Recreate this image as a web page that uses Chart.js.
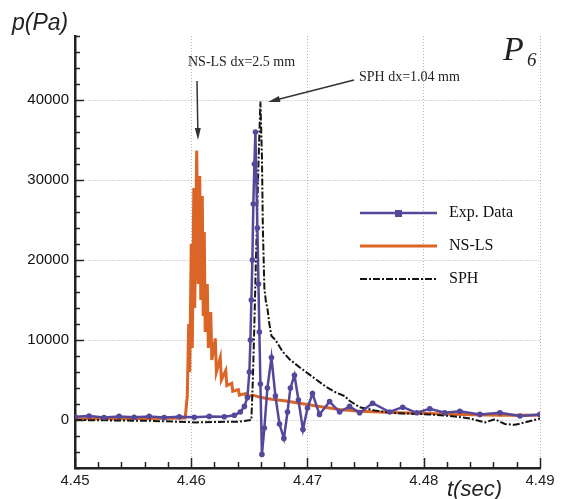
<!DOCTYPE html>
<html>
<head>
<meta charset="utf-8">
<script src="https://cdn.jsdelivr.net/npm/chart.js@4.4.0/dist/chart.umd.min.js"></script>
<style>
  html, body { margin: 0; padding: 0; background: #fff; }
  #wrap { width: 564px; height: 499px; position: relative; }
</style>
</head>
<body>
<div id="wrap"><canvas id="pChart"></canvas></div>
<script>
// values: time in s, pressure in Pa
const expTime = [4.45, 4.45121, 4.4525, 4.45379, 4.45509, 4.45638, 4.45767, 4.45897, 4.46026, 4.46155,
  4.46284, 4.46371, 4.46422, 4.46457, 4.46483, 4.465, 4.46509, 4.46517, 4.46526, 4.46534,
  4.46543, 4.46552, 4.4656, 4.46569, 4.46578, 4.46586, 4.46595, 4.46608, 4.46629, 4.46655,
  4.4669, 4.46724, 4.46759, 4.46797, 4.46828, 4.46853, 4.46888, 4.46922, 4.46961, 4.47,
  4.47043, 4.47103, 4.4719, 4.47276, 4.47362, 4.47448, 4.4756, 4.47707, 4.47819, 4.4794,
  4.48052, 4.48181, 4.4831, 4.48483, 4.48655, 4.48828, 4.49];
const expPressure = [400, 500, 300, 450, 350, 450, 300, 400, 350, 450,
  400, 600, 1000, 1700, 2800, 6000, 10000, 15000, 20000, 27000,
  32000, 36000, 30000, 24000, 17000, 11000, 4500, -4300, -1000, 4000,
  7800, 3000, -500, -2300, 1000, 4000, 5600, 2500, -1200, 1500,
  3300, 700, 2300, 1000, 1700, 900, 2100, 1000, 1600, 900,
  1400, 900, 1100, 700, 900, 500, 700];

const nslsTime = [4.45, 4.45638, 4.45948, 4.45966, 4.45978, 4.45987, 4.46, 4.46009, 4.46022, 4.4603,
  4.46047, 4.4606, 4.46073, 4.46082, 4.46095, 4.46103, 4.46112, 4.4612, 4.46138, 4.46147,
  4.46168, 4.46177, 4.46207, 4.46216, 4.4625, 4.46259, 4.46297, 4.46306, 4.46349, 4.46357,
  4.46405, 4.46414, 4.46466, 4.46474, 4.46534, 4.46603, 4.4669, 4.46802, 4.46931, 4.47103,
  4.47276, 4.47448, 4.47621, 4.47793, 4.48052, 4.4831, 4.48655, 4.49];
const nslsPressure = [150, 200, 250, 3000, 12000, 6000, 22000, 9000, 29000, 14000,
  33700, 17000, 30500, 15000, 28000, 13000, 23500, 11000, 17000, 9000,
  13500, 7500, 10200, 6000, 7800, 5000, 6200, 4300, 4600, 3600,
  3800, 3100, 3300, 2900, 3100, 2800, 2600, 2400, 2100, 1700,
  1300, 1100, 1000, 900, 800, 700, 600, 600];

const sphTime = [4.45, 4.45638, 4.46043, 4.46414, 4.46517, 4.4653, 4.46543, 4.4656, 4.46578, 4.46595,
  4.46608, 4.46616, 4.46629, 4.46642, 4.46655, 4.46672, 4.4669, 4.46724, 4.46784, 4.46845,
  4.46931, 4.47043, 4.47164, 4.4725, 4.47319, 4.47362, 4.47448, 4.47578, 4.47707, 4.4788,
  4.48052, 4.48224, 4.48397, 4.48526, 4.48612, 4.48698, 4.48784, 4.4887, 4.49];
const sphPressure = [0, -100, -300, -200, 0, 5000, 12000, 22000, 32000, 39800,
  33000, 24000, 16500, 14800, 14000, 12000, 10500, 10000, 8600, 7600,
  6600, 5400, 4100, 3400, 3000, 2400, 1600, 1200, 900, 800,
  700, 500, 200, -300, 100, -500, -600, -300, 200];

const xTicks = [4.45, 4.46, 4.47, 4.48, 4.49];
const yTicks = [0, 10000, 20000, 30000, 40000];
const seriesNames = ['Exp. Data', 'NS-LS', 'SPH'];

const expColor = '#55479a';
const nslsColor = '#db6526';
const sphColor = '#151515';

function toPoints(ts, ps) {
    return ts.map((t, i) => ({ x: t, y: ps[i] }));
}

function drawArrow(ctx, x1, y1, x2, y2) {
    const a = Math.atan2(y2 - y1, x2 - x1);
    ctx.beginPath();
    ctx.moveTo(x1, y1);
    ctx.lineTo(x2 - 6 * Math.cos(a), y2 - 6 * Math.sin(a));
    ctx.stroke();
    ctx.beginPath();
    ctx.moveTo(x2, y2);
    ctx.lineTo(x2 - 12 * Math.cos(a) + 3 * Math.sin(a), y2 - 12 * Math.sin(a) - 3 * Math.cos(a));
    ctx.lineTo(x2 - 12 * Math.cos(a) - 3 * Math.sin(a), y2 - 12 * Math.sin(a) + 3 * Math.cos(a));
    ctx.closePath();
    ctx.fill();
}

// inward ticks, axis titles, notes and the legend
const decorPlugin = {
    id: 'decor',
    afterDraw(chart) {
        const ctx = chart.ctx;
        const xs = chart.scales.x;
        const ys = chart.scales.y;
        const area = chart.chartArea;
        ctx.save();
        ctx.strokeStyle = '#222';
        ctx.lineWidth = 1.5;
        for (let v = -6000; v <= 48000; v += 2000) {
            const y = Math.round(ys.getPixelForValue(v)) + 0.5;
            const len = v % 10000 === 0 ? 9 : 5;
            ctx.beginPath();
            ctx.moveTo(area.left, y);
            ctx.lineTo(area.left + len, y);
            ctx.stroke();
        }
        for (let i = 0; i <= 20; i++) {
            const x = Math.round(xs.getPixelForValue(4.45 + i * 0.002)) + 0.5;
            const len = i % 5 === 0 ? 10 : 6;
            ctx.beginPath();
            ctx.moveTo(x, area.bottom);
            ctx.lineTo(x, area.bottom - len);
            ctx.stroke();
        }

        // axis titles
        ctx.fillStyle = '#222';
        ctx.textBaseline = 'alphabetic';
        ctx.textAlign = 'left';
        ctx.font = 'italic 23px "Liberation Sans"';
        ctx.fillText('p(Pa)', 12, 30);
        ctx.font = 'italic 22px "Liberation Sans"';
        ctx.fillText('t(sec)', 447, 496);

        // probe label
        ctx.font = 'italic 34px "Liberation Serif"';
        ctx.fillText('P', 503, 60);
        ctx.font = 'italic 19px "Liberation Serif"';
        ctx.fillText('6', 527, 66);

        // notes with arrows
        ctx.font = '14px "Liberation Serif"';
        ctx.textBaseline = 'middle';
        ctx.fillText('NS-LS dx=2.5 mm', 188, 62);
        ctx.fillText('SPH dx=1.04 mm', 359, 77);
        ctx.strokeStyle = '#333';
        ctx.fillStyle = '#333';
        ctx.lineWidth = 1.5;
        drawArrow(ctx, 197, 81, 198, 140);
        drawArrow(ctx, 354, 80, 268, 102);

        // legend
        const rows = [213, 246, 279];
        const styles = [
            { color: expColor, width: 2.5, dash: [] },
            { color: nslsColor, width: 3, dash: [] },
            { color: sphColor, width: 2, dash: [7, 2, 2, 2] }
        ];
        ctx.font = '16px "Liberation Serif"';
        seriesNames.forEach((name, i) => {
            const s = styles[i];
            ctx.strokeStyle = s.color;
            ctx.lineWidth = s.width;
            ctx.setLineDash(s.dash);
            ctx.beginPath();
            ctx.moveTo(360, rows[i]);
            ctx.lineTo(437, rows[i]);
            ctx.stroke();
            ctx.setLineDash([]);
            if (i === 0) {
                ctx.fillStyle = expColor;
                ctx.fillRect(395, rows[i] - 3, 7, 7);
            }
            ctx.fillStyle = '#111';
            ctx.fillText(name, 449, rows[i]);
        });
        ctx.restore();
    }
};

new Chart(document.getElementById('pChart'), {
    type: 'line',
    data: {
        datasets: [
            {
                label: seriesNames[0],
                data: toPoints(expTime, expPressure),
                borderColor: expColor,
                backgroundColor: expColor,
                borderWidth: 2.5,
                pointRadius: 2.8,
                pointBorderWidth: 0,
                pointBackgroundColor: expColor,
                tension: 0,
                order: 0
            },
            {
                label: seriesNames[1],
                data: toPoints(nslsTime, nslsPressure),
                borderColor: nslsColor,
                borderWidth: 3,
                pointRadius: 0,
                tension: 0,
                order: 2
            },
            {
                label: seriesNames[2],
                data: toPoints(sphTime, sphPressure),
                borderColor: sphColor,
                borderWidth: 2,
                borderDash: [7, 2, 2, 2],
                pointRadius: 0,
                tension: 0,
                order: 1
            }
        ]
    },
    options: {
        responsive: true,
        maintainAspectRatio: false,
        animation: false,
        layout: { padding: { left: 0, right: 24, top: 36, bottom: 0 } },
        plugins: {
            legend: { display: false },
            tooltip: { enabled: false }
        },
        scales: {
            x: {
                type: 'linear',
                min: 4.45,
                max: 4.49,
                afterBuildTicks: s => { s.ticks = xTicks.map(v => ({ value: v })); },
                afterFit: s => { s.height = 31; },
                grid: { color: '#b5b5b5', lineWidth: 1, drawTicks: false },
                border: { display: true, color: '#222', width: 2.5, dash: [1, 2] },
                ticks: {
                    padding: 4,
                    color: '#222',
                    font: { family: 'Liberation Sans', size: 15 },
                    callback: v => Number(v).toFixed(2)
                }
            },
            y: {
                type: 'linear',
                min: -6000,
                max: 48000,
                afterBuildTicks: s => { s.ticks = yTicks.map(v => ({ value: v })); },
                afterFit: s => { s.width = 75; },
                grid: { color: '#b5b5b5', lineWidth: 1, drawTicks: false },
                border: { display: true, color: '#222', width: 2.5, dash: [1, 2] },
                ticks: {
                    padding: 6,
                    color: '#111',
                    font: { family: 'Liberation Sans', size: 15 },
                    callback: v => String(v)
                }
            }
        }
    },
    plugins: [decorPlugin]
});
</script>
</body>
</html>
